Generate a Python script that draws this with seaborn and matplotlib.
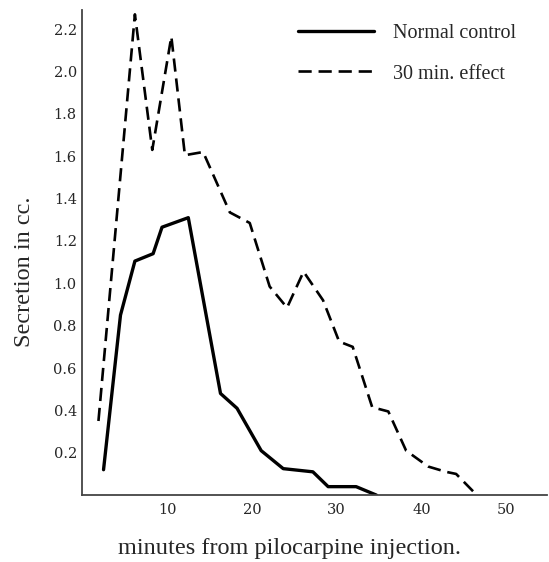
import matplotlib
matplotlib.use("Agg")
import matplotlib.pyplot as plt
from matplotlib.lines import Line2D
import seaborn as sns
import pandas as pd

# Minutes after injection and secretion volume (cc)
control_min = [2.5, 4.5, 6.2, 8.35, 9.4, 12.5, 16.3, 18.25, 21.1, 23.7, 27.2, 29.0, 32.3, 34.7]
control_cc = [0.12, 0.85, 1.105, 1.14, 1.265, 1.31, 0.48, 0.41, 0.21, 0.125, 0.11, 0.04, 0.04, 0.0]

effect_min = [1.9, 6.2, 8.25, 10.5, 12.1, 14.25, 17.4, 19.75, 22.1, 24.15, 26.1, 28.4,
              30.3, 31.9, 34.2, 36.1, 38.2, 40.8, 42.9, 44.1, 46.3]
effect_cc = [0.35, 2.27, 1.63, 2.165, 1.605, 1.62, 1.335, 1.285, 0.985, 0.885, 1.055, 0.92,
             0.725, 0.70, 0.415, 0.395, 0.21, 0.135, 0.11, 0.10, 0.01]

series_names = ["Normal control", "30 min. effect"]

x_ticks = [10, 20, 30, 40, 50]
y_ticks = [0.2, 0.4, 0.6, 0.8, 1.0, 1.2, 1.4, 1.6, 1.8, 2.0, 2.2]

df = pd.concat([
    pd.DataFrame({"minutes": control_min, "cc": control_cc, "series": series_names[0]}),
    pd.DataFrame({"minutes": effect_min, "cc": effect_cc, "series": series_names[1]}),
], ignore_index=True)

sns.set_style("white")
plt.rcParams["font.family"] = ["Liberation Serif", "DejaVu Serif"]

DASH = (5, 2.6)

fig = plt.figure(figsize=(5.49, 5.62), dpi=100)
ax = fig.add_axes([0.150, 0.119, 0.846, 0.863])

sns.lineplot(
    data=df, x="minutes", y="cc", hue="series", style="series",
    hue_order=series_names, style_order=series_names,
    palette=["black", "black"],
    dashes={series_names[0]: "", series_names[1]: DASH},
    sort=False, estimator=None, linewidth=2.1, ax=ax, legend=False,
)
# solid curve slightly heavier than the dashed one
ax.lines[0].set_linewidth(2.4)
ax.lines[1].set_linewidth(1.9)

ax.set_xlim(0, 54.8)
ax.set_ylim(0, 2.29)
ax.set_xticks(x_ticks)
ax.set_xticklabels([str(t) for t in x_ticks])
ax.set_yticks(y_ticks)
ax.set_yticklabels([f"{t:.1f}" for t in y_ticks])
ax.tick_params(axis="both", direction="in", length=5, width=1, color="#333333",
               labelsize=10.5)
ax.tick_params(axis="y", pad=4)
ax.tick_params(axis="x", pad=6)
for lbl in ax.get_xticklabels() + ax.get_yticklabels():
    lbl.set_fontfamily("DejaVu Serif")

for side in ["top", "right"]:
    ax.spines[side].set_visible(False)
for side in ["left", "bottom"]:
    ax.spines[side].set_color("#444444")
    ax.spines[side].set_linewidth(1.3)

ax.set_xlabel("minutes from pilocarpine injection.", fontsize=17.5)
ax.xaxis.set_label_coords(0.445, -0.088)
ax.set_ylabel("Secretion in cc.", fontsize=17.5)
ax.yaxis.set_label_coords(-0.102, 0.46)

handles = [
    Line2D([], [], color="black", lw=2.4),
    Line2D([], [], color="black", lw=1.9, dashes=DASH),
]
ax.legend(handles, series_names, loc="upper left", bbox_to_anchor=(0.543, 0.957),
          bbox_transform=fig.transFigure, frameon=False, fontsize=14.5,
          handlelength=3.75, handletextpad=0.95, labelspacing=1.05,
          borderpad=0, borderaxespad=0)

fig.savefig("out.png", dpi=100)
